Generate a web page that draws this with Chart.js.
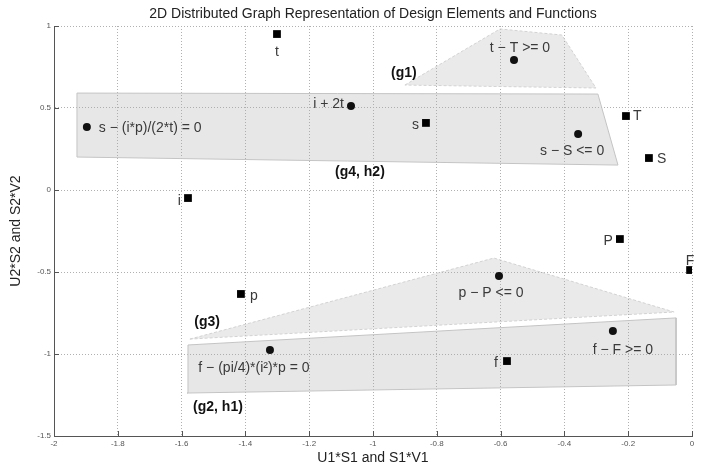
<!DOCTYPE html>
<html><head><meta charset="utf-8">
<script src="https://cdn.jsdelivr.net/npm/chart.js@4"></script>
<style>html,body{margin:0;padding:0;background:#fff}#wrap{width:704px;height:468px}</style>
</head><body><div id="wrap"><canvas id="c" width="704" height="468"></canvas></div>
<script>
// ---- data ----
const xTicks = [-2, -1.8, -1.6, -1.4, -1.2, -1, -0.8, -0.6, -0.4, -0.2, 0];
const yTicks = [-1.5, -1, -0.5, 0, 0.5, 1];

const elementNames = ['t', 's', 'T', 'S', 'i', 'P', 'F', 'p', 'f'];
const elementX = [-1.301, -0.834, -0.207, -0.135, -1.580, -0.226, -0.006, -1.414, -0.580];
const elementY = [0.951, 0.409, 0.451, 0.195, -0.049, -0.299, -0.488, -0.634, -1.043];

const functionNames = ['s − (i*p)/(2*t) = 0', 'i + 2t', 't − T >= 0', 's − S <= 0', 'p − P <= 0', 'f − F >= 0', 'f − (pi/4)*(i²)*p = 0'];
const functionX = [-1.897, -1.069, -0.558, -0.357, -0.605, -0.248, -1.323];
const functionY = [0.384, 0.512, 0.793, 0.341, -0.524, -0.860, -0.976];

const groupNames = ['(g1)', '(g4, h2)', '(g3)', '(g2, h1)'];
const groupLabelX = [-0.903, -1.041, -1.520, -1.486];
const groupLabelY = [0.713, 0.110, -0.805, -1.323];

const g1X = [-0.900, -0.602, -0.408, -0.301];
const g1Y = [0.640, 0.982, 0.945, 0.622];
const g4X = [-1.928, -0.295, -0.232, -1.928];
const g4Y = [0.591, 0.585, 0.152, 0.201];
const g3X = [-1.574, -0.621, -0.056];
const g3Y = [-0.909, -0.415, -0.744];
const g2X = [-1.580, -0.050, -0.050, -1.583];
const g2Y = [-0.945, -0.780, -1.189, -1.238];

// ---- label styling (pixel offsets, alignment) ----
const elementLabelStyle = [[0,18,'center'],[-7,2,'right'],[7,0,'left'],[8,1,'left'],[-7,3,'right'],[-7,2,'right'],[0,-9,'center'],[9,2,'left'],[-9,2,'right']];
const functionLabelStyle = [[12,1,'left'],[-7,-2,'right'],[6,-12,'center'],[-6,17,'center'],[-8,17,'center'],[10,19,'center'],[-16,18,'center']];

const pts = (xs, ys) => xs.map((x, i) => ({x, y: ys[i]}));
const closed = (xs, ys) => { const p = pts(xs, ys); p.push(p[0]); return p; };

function polygon(xs, ys, dashed) {
  return {
    data: closed(xs, ys), showLine: true, fill: 'shape', tension: 0,
    backgroundColor: dashed ? 'rgba(170,170,170,0.25)' : 'rgba(170,170,170,0.28)',
    borderColor: dashed ? '#d2d2d2' : '#c4c4c4', borderWidth: 1,
    borderDash: dashed ? [3, 2] : [], pointRadius: 0, order: 3
  };
}

const labelPlugin = {
  id: 'labels',
  afterDatasetsDraw(chart) {
    const {ctx, scales: {x, y}} = chart;
    ctx.save();
    ctx.textBaseline = 'middle';
    ctx.fillStyle = '#3a3a3a';
    ctx.font = '14px "Liberation Sans", Arial, sans-serif';
    elementNames.forEach((n, i) => {
      const s = elementLabelStyle[i];
      ctx.textAlign = s[2];
      ctx.fillText(n, x.getPixelForValue(elementX[i]) + s[0], y.getPixelForValue(elementY[i]) + s[1]);
    });
    functionNames.forEach((n, i) => {
      const s = functionLabelStyle[i];
      ctx.textAlign = s[2];
      ctx.fillText(n, x.getPixelForValue(functionX[i]) + s[0], y.getPixelForValue(functionY[i]) + s[1]);
    });
    ctx.fillStyle = '#111';
    ctx.font = 'bold 14px "Liberation Sans", Arial, sans-serif';
    ctx.textAlign = 'center';
    groupNames.forEach((n, i) => {
      ctx.fillText(n, x.getPixelForValue(groupLabelX[i]), y.getPixelForValue(groupLabelY[i]));
    });
    // inward tick marks
    ctx.strokeStyle = '#555'; ctx.lineWidth = 1;
    const a = chart.chartArea;
    ctx.beginPath();
    xTicks.forEach(v => { const px = Math.round(x.getPixelForValue(v)) + 0.5; ctx.moveTo(px, a.bottom); ctx.lineTo(px, a.bottom - 5); });
    yTicks.forEach(v => { const py = Math.round(y.getPixelForValue(v)) + 0.5; ctx.moveTo(a.left, py); ctx.lineTo(a.left + 5, py); });
    ctx.stroke();
    ctx.restore();
  }
};

new Chart(document.getElementById('c'), {
  type: 'scatter',
  data: {
    datasets: [
      polygon(g1X, g1Y, true),
      polygon(g4X, g4Y, false),
      polygon(g3X, g3Y, true),
      polygon(g2X, g2Y, false),
      { data: pts(elementX, elementY), pointStyle: 'rect', pointRadius: 5.5, backgroundColor: '#000', borderColor: '#000', borderWidth: 0, order: 1 },
      { data: pts(functionX, functionY), pointStyle: 'circle', pointRadius: 4, backgroundColor: '#111', borderColor: '#111', borderWidth: 0, order: 1 }
    ]
  },
  options: {
    responsive: false, animation: false, devicePixelRatio: 1,
    layout: { padding: { top: 0, right: 12, left: 0, bottom: 0 } },
    plugins: {
      legend: { display: false }, tooltip: { enabled: false },
      title: { display: true, fullSize: false, text: '2D Distributed Graph Representation of Design Elements and Functions',
        color: '#222', font: { size: 14, weight: 'normal', family: '"Liberation Sans", Arial, sans-serif' }, padding: { top: 6, bottom: 3.2 } }
    },
    scales: {
      x: {
        type: 'linear', min: -2, max: 0,
        afterBuildTicks: s => { s.ticks = xTicks.map(v => ({value: v})); },
        afterFit: s => { s.height = 32; },
        grid: { color: '#b0b0b0', drawTicks: false, lineWidth: 1 },
        border: { display: true, color: '#555', width: 1, dash: [1, 2] },
        ticks: { padding: 3, color: '#555', font: { size: 8, family: '"Liberation Sans", Arial, sans-serif' }, maxRotation: 0, autoSkip: false, callback: v => String(Math.round(v * 10) / 10) },
        title: { display: true, text: 'U1*S1 and S1*V1', color: '#222', font: { size: 14, family: '"Liberation Sans", Arial, sans-serif' }, padding: { top: 0, bottom: 1 } }
      },
      y: {
        type: 'linear', min: -1.5, max: 1,
        afterBuildTicks: s => { s.ticks = yTicks.map(v => ({value: v})); },
        afterFit: s => { s.width = 54; },
        grid: { color: '#b0b0b0', drawTicks: false, lineWidth: 1 },
        border: { display: true, color: '#555', width: 1, dash: [1, 2] },
        ticks: { padding: 3, color: '#555', font: { size: 8, family: '"Liberation Sans", Arial, sans-serif' }, autoSkip: false, callback: v => String(Math.round(v * 10) / 10) },
        title: { display: true, text: 'U2*S2 and S2*V2', color: '#222', font: { size: 14, family: '"Liberation Sans", Arial, sans-serif' }, padding: { top: 8, bottom: 0 } }
      }
    }
  },
  plugins: [labelPlugin]
});
</script>
</body></html>
